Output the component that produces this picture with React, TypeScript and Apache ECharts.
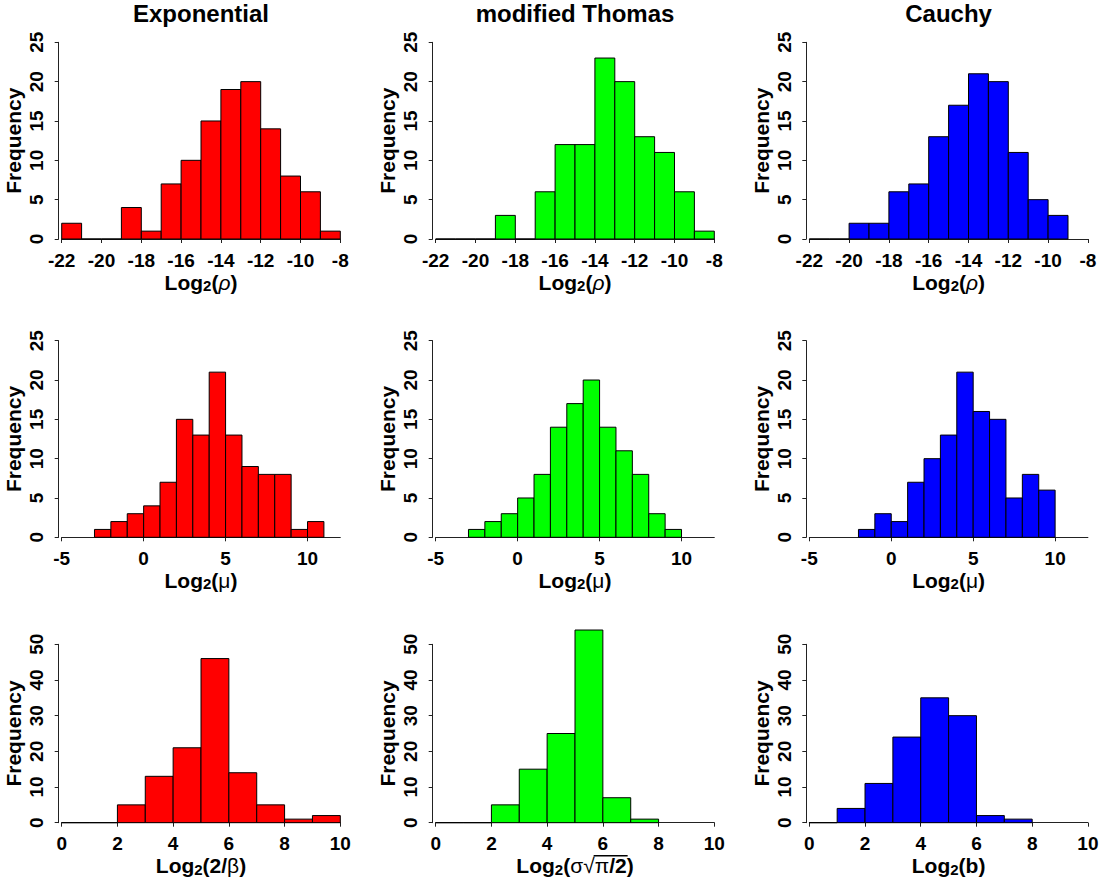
import React, { useEffect, useRef } from 'react';
import * as echarts from 'echarts';

const FONT = '"Liberation Sans", Arial, Helvetica, sans-serif';

// Column headings (models)
const modelTitles = ['Exponential', 'modified Thomas', 'Cauchy'];
const modelColors = ['#ff0000', '#00ff00', '#0000ff'];

// Row 1: Log2(rho), unit-width bins
const rhoTicks = [-22, -20, -18, -16, -14, -12, -10, -8];
const rhoFreqTicks = [0, 5, 10, 15, 20, 25];
const expRhoStart = -22;
const expRhoCounts = [2, 0, 0, 4, 1, 7, 10, 15, 19, 20, 14, 8, 6, 1];
const thomasRhoStart = -22;
const thomasRhoCounts = [0, 0, 0, 3, 0, 6, 12, 12, 23, 20, 13, 11, 6, 1];
const cauchyRhoStart = -22;
const cauchyRhoCounts = [0, 0, 2, 2, 6, 7, 13, 17, 21, 20, 11, 5, 3];

// Row 2: Log2(mu), unit-width bins
const muTicks = [-5, 0, 5, 10];
const muFreqTicks = [0, 5, 10, 15, 20, 25];
const expMuStart = -3;
const expMuCounts = [1, 2, 3, 4, 7, 15, 13, 21, 13, 9, 8, 8, 1, 2];
const thomasMuStart = -3;
const thomasMuCounts = [1, 2, 3, 5, 8, 14, 17, 20, 14, 11, 8, 3, 1];
const cauchyMuStart = -2;
const cauchyMuCounts = [1, 3, 2, 7, 10, 13, 21, 16, 15, 5, 8, 6];

// Row 3: scale parameter, unit-width bins
const scaleTicks = [0, 2, 4, 6, 8, 10];
const scaleFreqTicks = [0, 10, 20, 30, 40, 50];
const expScaleStart = 0;
const expScaleCounts = [0, 0, 5, 13, 21, 46, 14, 5, 1, 2];
const thomasScaleStart = 0;
const thomasScaleCounts = [0, 0, 5, 15, 25, 54, 7, 1];
const cauchyScaleStart = 0;
const cauchyScaleCounts = [0, 4, 11, 24, 35, 30, 2, 1];

// Axis titles (rich text)
const rhoName = '{t|Log}{s|2}{t|(}{gi|ρ}{t|)}';
const muName = '{t|Log}{s|2}{t|(}{g|μ}{t|)}';
const betaName = '{t|Log}{s|2}{t|(2/}{g|β}{t|)}';
const sigmaName = '{t|Log}{s|2}{t|(}{g|σ√π}{t|/2)}';
const bName = '{t|Log}{s|2}{t|(b)}';

// Panel geometry
const colLeft = [61.7, 435.7, 809.3];
const colWidth = 278.6;
const rowTop = [42.3, 340.7, 644.3];
const rowHeight = [196.7, 196.6, 178.4];

const TITLE_SIZE = 24;
const NAME_SIZE = 21;
const SUB_SIZE = 15;
const TICK_SIZE = 19;

type Panel = {
  row: number;
  col: number;
  start: number;
  counts: number[];
  xTicks: number[];
  yTicks: number[];
  xMin: number;
  xMax: number;
  name: string;
};

const panels: Panel[] = [
  { row: 0, col: 0, start: expRhoStart, counts: expRhoCounts, xTicks: rhoTicks, yTicks: rhoFreqTicks, xMin: -22, xMax: -8, name: rhoName },
  { row: 0, col: 1, start: thomasRhoStart, counts: thomasRhoCounts, xTicks: rhoTicks, yTicks: rhoFreqTicks, xMin: -22, xMax: -8, name: rhoName },
  { row: 0, col: 2, start: cauchyRhoStart, counts: cauchyRhoCounts, xTicks: rhoTicks, yTicks: rhoFreqTicks, xMin: -22, xMax: -8, name: rhoName },
  { row: 1, col: 0, start: expMuStart, counts: expMuCounts, xTicks: muTicks, yTicks: muFreqTicks, xMin: -5, xMax: 12, name: muName },
  { row: 1, col: 1, start: thomasMuStart, counts: thomasMuCounts, xTicks: muTicks, yTicks: muFreqTicks, xMin: -5, xMax: 12, name: muName },
  { row: 1, col: 2, start: cauchyMuStart, counts: cauchyMuCounts, xTicks: muTicks, yTicks: muFreqTicks, xMin: -5, xMax: 12, name: muName },
  { row: 2, col: 0, start: expScaleStart, counts: expScaleCounts, xTicks: scaleTicks, yTicks: scaleFreqTicks, xMin: 0, xMax: 10, name: betaName },
  { row: 2, col: 1, start: thomasScaleStart, counts: thomasScaleCounts, xTicks: scaleTicks, yTicks: scaleFreqTicks, xMin: 0, xMax: 10, name: sigmaName },
  { row: 2, col: 2, start: cauchyScaleStart, counts: cauchyScaleCounts, xTicks: scaleTicks, yTicks: scaleFreqTicks, xMin: 0, xMax: 10, name: bName },
];

const AXIS_NAME_GAP = 31;

const richStyles = {
  t: { fontFamily: FONT, fontWeight: 'bold', fontSize: NAME_SIZE, color: '#000', lineHeight: 24 },
  s: { fontFamily: FONT, fontWeight: 'bold', fontSize: SUB_SIZE, color: '#000', lineHeight: 24, padding: [7, 0, 0, 0] },
  g: { fontFamily: FONT, fontWeight: 'normal', fontSize: NAME_SIZE, color: '#000', lineHeight: 24 },
  gi: { fontFamily: FONT, fontWeight: 'normal', fontStyle: 'italic', fontSize: NAME_SIZE, color: '#000', lineHeight: 24 },
};

function measure(text: string, font: string): number {
  const c = document.createElement('canvas').getContext('2d');
  if (!c) return text.length * 10;
  c.font = font;
  return c.measureText(text).width;
}

export default function App() {
  const ref = useRef<HTMLDivElement>(null);

  useEffect(() => {
    if (!ref.current) return;
    const chart = echarts.init(ref.current, undefined, { renderer: 'svg' });

    const grids: any[] = [];
    const xAxes: any[] = [];
    const yAxes: any[] = [];
    const series: any[] = [];

    panels.forEach((p, i) => {
      grids.push({
        left: colLeft[p.col],
        top: rowTop[p.row],
        width: colWidth,
        height: rowHeight[p.row],
        containLabel: false,
      });
      xAxes.push({
        type: 'value',
        gridIndex: i,
        min: p.xMin,
        max: p.xMax,
        axisLine: { show: true, onZero: false, lineStyle: { color: '#222', width: 1 } },
        axisTick: { show: true, length: 4, lineStyle: { color: '#222' }, customValues: p.xTicks },
        axisLabel: {
          customValues: p.xTicks,
          fontFamily: FONT,
          fontWeight: 'bold',
          fontSize: TICK_SIZE,
          color: '#000',
          margin: 11,
          lineHeight: 20,
          hideOverlap: false,
        },
        splitLine: { show: false },
        name: p.name,
        nameLocation: 'middle',
        nameGap: AXIS_NAME_GAP,
        nameTextStyle: { rich: richStyles },
      });
      const yMax = p.yTicks[p.yTicks.length - 1];
      yAxes.push({
        type: 'value',
        gridIndex: i,
        min: 0,
        max: yMax,
        offset: 3,
        axisLine: { show: true, onZero: false, lineStyle: { color: '#222', width: 1 } },
        axisTick: { show: true, length: 4, lineStyle: { color: '#222' }, customValues: p.yTicks },
        axisLabel: {
          customValues: p.yTicks,
          rotate: 90,
          fontFamily: FONT,
          fontWeight: 'bold',
          fontSize: TICK_SIZE,
          color: '#000',
          margin: 12,
          lineHeight: 20,
          hideOverlap: false,
        },
        splitLine: { show: false },
        name: 'Frequency',
        nameLocation: 'middle',
        nameRotate: 90,
        nameGap: 24,
        nameTextStyle: {
          fontFamily: FONT,
          fontWeight: 'bold',
          fontSize: NAME_SIZE,
          color: '#000',
          lineHeight: 24,
        },
      });
      const bins = p.counts.map((c, k) => [p.start + k, p.start + k + 1, c]);
      series.push({
        type: 'custom',
        xAxisIndex: i,
        yAxisIndex: i,
        clip: false,
        data: bins,
        encode: { x: [0, 1], y: 2 },
        renderItem: (_params: any, api: any) => {
          const top = api.coord([api.value(0), api.value(2)]);
          const bottom = api.coord([api.value(1), 0]);
          return {
            type: 'rect',
            shape: {
              x: top[0],
              y: top[1],
              width: bottom[0] - top[0],
              height: bottom[1] - top[1],
            },
            style: { fill: modelColors[p.col], stroke: '#000', lineWidth: 1 },
          };
        },
      });
    });

    const graphics: any[] = modelTitles.map((t, c) => ({
      type: 'text',
      x: colLeft[c] + colWidth / 2,
      y: 13.5,
      style: {
        text: t,
        fill: '#000',
        font: `bold ${TITLE_SIZE}px ${FONT}`,
        align: 'center',
        verticalAlign: 'middle',
      },
    }));

    // Vinculum of the square root over "π/2" in the Thomas scale title
    const boldF = `bold ${NAME_SIZE}px ${FONT}`;
    const subF = `bold ${SUB_SIZE}px ${FONT}`;
    const normF = `normal ${NAME_SIZE}px ${FONT}`;
    const wLog = measure('Log', boldF);
    const w2 = measure('2', subF);
    const wOpen = measure('(', boldF);
    const wSigSqrt = measure('σ√', normF);
    const wPi = measure('π', normF);
    const wTail = measure('/2)', boldF);
    const wSlash2 = measure('/2', boldF);
    const total = wLog + w2 + wOpen + wSigSqrt + wPi + wTail;
    const cx = colLeft[1] + colWidth / 2;
    const barStart = cx - total / 2 + wLog + w2 + wOpen + wSigSqrt;
    const barEnd = barStart + wPi + wSlash2;
    const nameTop = rowTop[2] + rowHeight[2] + AXIS_NAME_GAP;
    graphics.push({
      type: 'line',
      shape: { x1: barStart - 1, y1: nameTop + 2, x2: barEnd + 1, y2: nameTop + 2 },
      style: { stroke: '#000', lineWidth: 1.5 },
    });

    chart.setOption({
      animation: false,
      backgroundColor: '#fff',
      grid: grids,
      xAxis: xAxes,
      yAxis: yAxes,
      series,
      graphic: graphics,
    });

    return () => chart.dispose();
  }, []);

  return (
    <div
      ref={ref}
      style={{ position: 'fixed', left: 0, top: 0, width: 1107, height: 885, background: '#fff' }}
    />
  );
}
